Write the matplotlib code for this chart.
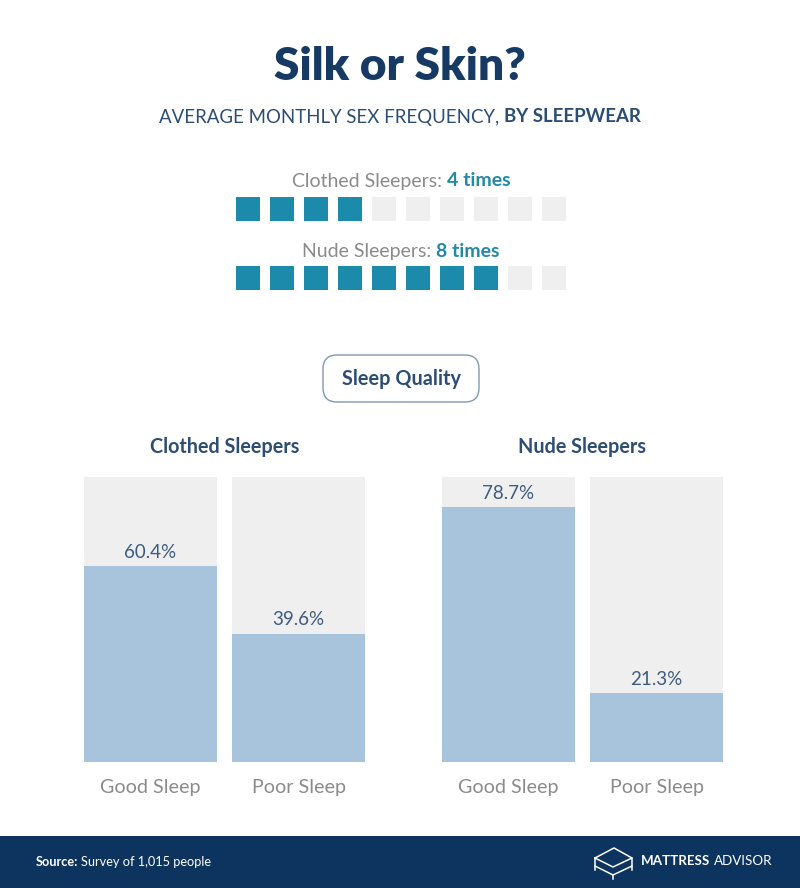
import matplotlib
matplotlib.use('Agg')
import matplotlib.pyplot as plt
from matplotlib.patches import Rectangle, FancyBboxPatch

plt.rcParams['font.family'] = ['Lato', 'DejaVu Sans']

# ── data ──────────────────────────────────────────────────────────────────────
freq_groups = ['Clothed Sleepers', 'Nude Sleepers']
freq_values = [4, 8]          # average monthly sex frequency
freq_slots = 10

quality_groups = ['Clothed Sleepers', 'Nude Sleepers']
quality_cats = ['Good Sleep', 'Poor Sleep']
quality_values = [[60.4, 39.6],
                  [78.7, 21.3]]
TRACK_MAX = 88                # height of the grey track behind each bar

# ── colours ───────────────────────────────────────────────────────────────────
NAVY = '#173a64'
NAVY_TXT = '#2c4d74'
TEAL = '#1b8aab'
TEAL_TXT = '#2489a8'
GREY_TXT = '#8b8b8b'
TRACK = '#efefef'
FILL = '#a8c4dc'
VAL_TXT = '#3d5c80'
FOOTER = '#0d335f'

W, H = 800, 888
fig = plt.figure(figsize=(W / 100, H / 100), dpi=100)
ax = fig.add_axes([0, 0, 1, 1])
ax.set_xlim(0, W)
ax.set_ylim(H, 0)
ax.axis('off')
renderer = fig.canvas.get_renderer()


def rich_center(x, y, parts, size):
    """Centre a run of differently styled text pieces on x."""
    texts = []
    for s, color, weight in parts:
        t = ax.text(0, y, s, color=color, fontsize=size, fontweight=weight,
                    va='center', ha='left')
        texts.append(t)
    widths = [t.get_window_extent(renderer).width for t in texts]
    cur = x - sum(widths) / 2
    for t, w in zip(texts, widths):
        t.set_x(cur)
        cur += w


# ── title block ───────────────────────────────────────────────────────────────
ax.text(W / 2, 67, 'Silk or Skin?', ha='center', va='center',
        fontsize=33, fontweight='heavy', color=NAVY)
rich_center(W / 2, 117, [('AVERAGE MONTHLY SEX FREQUENCY, ', NAVY_TXT, 'normal'),
                         ('BY SLEEPWEAR', NAVY_TXT, 'bold')], 13.4)

# ── waffle rows ───────────────────────────────────────────────────────────────
row_label_y = [181, 251]
row_top = [197, 266]
sq, pitch, x0 = 24, 34, 236
for name, val, ly, ty in zip(freq_groups, freq_values, row_label_y, row_top):
    rich_center(W / 2 + 1, ly, [(f'{name}: ', GREY_TXT, 'normal'),
                                (f'{val} times', TEAL_TXT, 'bold')], 14)
    for j in range(freq_slots):
        ax.add_patch(Rectangle((x0 + j * pitch, ty), sq, sq, lw=0,
                               color=TEAL if j < val else TRACK))

# ── "Sleep Quality" pill ──────────────────────────────────────────────────────
ax.add_patch(FancyBboxPatch((323, 355), 156, 47,
                            boxstyle='round,pad=0,rounding_size=14',
                            fc='white', ec='#7f9ab4', lw=1.0))
ax.text(401, 379, 'Sleep Quality', ha='center', va='center',
        fontsize=14.3, fontweight='bold', color=NAVY_TXT)

# ── bar panels ────────────────────────────────────────────────────────────────
panel_left = [84, 442]
bar_w, gap = 133, 15
top_px, bot_px = 477, 762
pw = 2 * bar_w + gap
frac = bar_w / (bar_w + gap)
for g, (grp, vals, left) in enumerate(zip(quality_groups, quality_values, panel_left)):
    ax.text(left + pw / 2, 447, grp, ha='center', va='center',
            fontsize=14.2, fontweight='bold', color=NAVY_TXT)
    bax = fig.add_axes([left / W, 1 - bot_px / H, pw / W, (bot_px - top_px) / H])
    xs = range(len(quality_cats))
    bax.bar(xs, [TRACK_MAX] * len(vals), width=frac, color=TRACK, lw=0)
    bax.bar(xs, vals, width=frac, color=FILL, lw=0)
    for x, v, c in zip(xs, vals, quality_cats):
        bax.annotate(f'{v:.1f}%', (x, v), xytext=(0, 10), textcoords='offset points',
                     ha='center', va='center', fontsize=13.5, color=VAL_TXT)
        bax.annotate(c, (x, 0), xytext=(0, -18.5), textcoords='offset points',
                     ha='center', va='center', fontsize=14.2, color=GREY_TXT,
                     annotation_clip=False)
    bax.set_xlim(-frac / 2, 1 + frac / 2)
    bax.set_ylim(0, TRACK_MAX)
    bax.axis('off')

# ── footer ────────────────────────────────────────────────────────────────────
ax.add_patch(Rectangle((0, 836), W, H - 836, color=FOOTER, lw=0))
foot_font = ['Liberation Sans Narrow', 'Lato']
t1 = ax.text(36, 862, 'Source:', ha='left', va='center', color='white',
             fontsize=9.2, fontweight='bold', family=foot_font)
w1 = t1.get_window_extent(renderer).width
ax.text(36 + w1 + 3, 862, 'Survey of 1,015 people', ha='left', va='center',
        color='white', fontsize=9.2, family=foot_font)

# logo: outlined mattress-on-legs icon
icon = [
    [(595, 858), (614, 848), (632, 858), (613, 867), (595, 858)],
    [(595, 858), (595, 866), (613, 875), (632, 866), (632, 858)],
    [(595, 866), (595, 870)],
    [(613, 875), (613, 879)],
    [(632, 866), (632, 870)],
]
for pts in icon:
    xs_, ys_ = zip(*pts)
    ax.plot(xs_, ys_, color='white', lw=1.1, solid_joinstyle='miter')
t2 = ax.text(641, 861, 'MATTRESS', ha='left', va='center', color='white',
             fontsize=9.6, fontweight='bold')
w2 = t2.get_window_extent(renderer).width
ax.text(641 + w2 + 4, 861, 'ADVISOR', ha='left', va='center', color='white',
        fontsize=9.6)

fig.savefig('out.png', dpi=100)
